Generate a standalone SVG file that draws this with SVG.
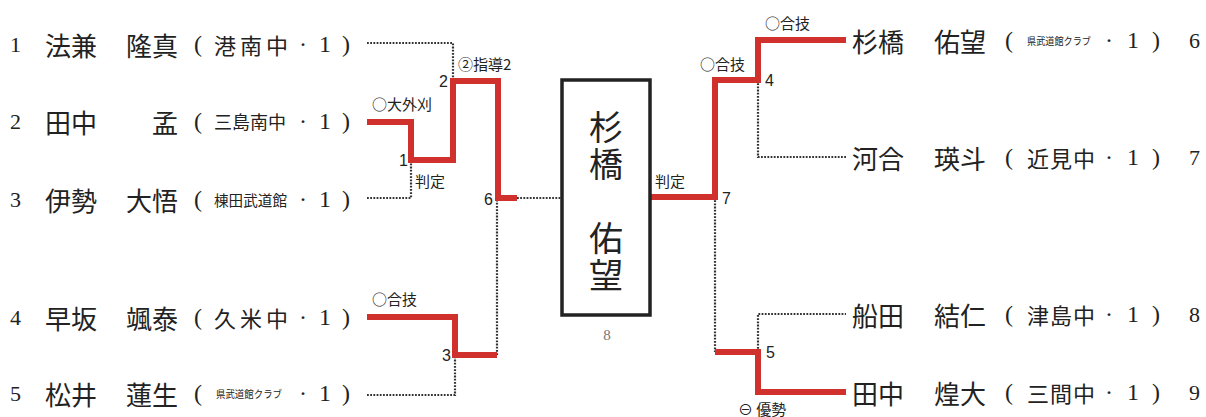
<svg xmlns="http://www.w3.org/2000/svg" width="1206" height="417" viewBox="0 0 1206 417">
<style>
.bg{fill:#fff}
.num{font-family:"Liberation Serif","DejaVu Serif",serif;font-size:22px;fill:#222;dominant-baseline:central}
.nm{font-family:"Noto Sans CJK JP","Noto Sans",sans-serif;font-size:26px;fill:#222;dominant-baseline:central}
.sch{font-family:"Noto Sans CJK JP","Noto Sans",sans-serif;fill:#222;dominant-baseline:central}
.par{font-family:"Liberation Serif","Noto Sans CJK JP",serif;font-size:24px;fill:#222;dominant-baseline:central}
.lbl{font-family:"Noto Sans CJK JP","DejaVu Sans",sans-serif;font-size:15px;fill:#222;dominant-baseline:central}
.sn{font-family:"Liberation Sans Narrow","Liberation Sans",sans-serif;font-size:16px;fill:#222;dominant-baseline:central}
.win{fill:none;stroke:#d0312d;stroke-width:6;stroke-linejoin:miter}
.los{fill:none;stroke:#333;stroke-width:2.2;stroke-dasharray:1.8 1.4}
.box{fill:#fff;stroke:#222;stroke-width:3.5}
.big{font-family:"Noto Sans CJK JP",sans-serif;font-size:34px;fill:#222;writing-mode:vertical-rl;text-anchor:middle;letter-spacing:3px}
</style>
<rect class="bg" width="1206" height="417"/>
<g id="connectors">
  <path class="los" d="M367,43 H453 V81"/>
  <path class="los" d="M367,198 H411 V160"/>
  <path class="los" d="M517,198 H562"/>
  <path class="los" d="M367,395 H455 V355"/>
  <path class="los" d="M497,355 V198"/>
  <path class="los" d="M758,80 V157 H846"/>
  <path class="los" d="M715,197 V352"/>
  <path class="los" d="M758,352 V314 H846"/>
  <path class="win" d="M367,122 H411 V160 H453 V81 H498 V198 H517"/>
  <path class="win" d="M367,317 H455 V355 H497"/>
  <path class="win" d="M650,197 H715 V80 H758 V40 H846"/>
  <path class="win" d="M715,352 H758 V392 H846"/>
</g>
<g id="labels">
  <text class="lbl" x="372" y="103" font-size="13">○大外刈</text>
  <text class="sn" x="448" y="81" text-anchor="end">2</text>
  <text class="lbl" x="458" y="63" font-size="16">②指導2</text>
  <text class="sn" x="408" y="160" text-anchor="end">1</text>
  <text class="lbl" x="415" y="180" font-size="16">判定</text>
  <text class="sn" x="493" y="199" text-anchor="end">6</text>
  <text class="lbl" x="372" y="298" font-size="16">○合技</text>
  <text class="sn" x="451" y="355" text-anchor="end">3</text>
  <text class="lbl" x="655" y="180" font-size="16" fill="#777">判定</text>
  <text class="sn" x="722" y="198">7</text>
  <text class="sn" x="765" y="80">4</text>
  <text class="sn" x="766" y="352">5</text>
  <text class="lbl" x="765" y="22" font-size="16">○合技</text>
  <text class="lbl" x="700" y="63" font-size="16">○合技</text>
  <text class="lbl" x="738" y="408" font-size="16">⊖ 優勢</text>
</g>
<g id="winner">
  <rect class="box" x="562" y="80" width="88" height="235"/>
  <text class="big" x="606" y="147">杉橋</text>
  <text class="big" x="606" y="258">佑望</text>
  <text x="607" y="335" font-family="Liberation Serif,serif" font-size="15" fill="#777" text-anchor="middle" dominant-baseline="central">8</text>
</g>
<g id="p1">
  <text class="num" x="10" y="44">1</text>
  <text class="nm" x="45" y="44">法兼</text>
  <text class="nm" x="126" y="44">隆真</text>
  <text class="par" x="194" y="44">(</text>
  <text class="sch" x="214" y="44" font-size="22" textLength="74" lengthAdjust="spacing">港南中</text>
  <text class="par" x="299" y="44">·</text>
  <text class="par" x="319" y="44">1</text>
  <text class="par" x="342" y="44">)</text>
</g>
<g id="p2">
  <text class="num" x="10" y="121">2</text>
  <text class="nm" x="45" y="121">田中</text>
  <text class="nm" x="152" y="121">孟</text>
  <text class="par" x="194" y="121">(</text>
  <text class="sch" x="214" y="121" font-size="18" textLength="72" lengthAdjust="spacingAndGlyphs">三島南中</text>
  <text class="par" x="299" y="121">·</text>
  <text class="par" x="319" y="121">1</text>
  <text class="par" x="342" y="121">)</text>
</g>
<g id="p3">
  <text class="num" x="10" y="199">3</text>
  <text class="nm" x="45" y="199">伊勢</text>
  <text class="nm" x="126" y="199">大悟</text>
  <text class="par" x="194" y="199">(</text>
  <text class="sch" x="214" y="199" font-size="15" textLength="73" lengthAdjust="spacingAndGlyphs">棟田武道館</text>
  <text class="par" x="299" y="199">·</text>
  <text class="par" x="319" y="199">1</text>
  <text class="par" x="342" y="199">)</text>
</g>
<g id="p4">
  <text class="num" x="10" y="317">4</text>
  <text class="nm" x="45" y="317">早坂</text>
  <text class="nm" x="126" y="317">颯泰</text>
  <text class="par" x="194" y="317">(</text>
  <text class="sch" x="214" y="317" font-size="22" textLength="74" lengthAdjust="spacing">久米中</text>
  <text class="par" x="299" y="317">·</text>
  <text class="par" x="319" y="317">1</text>
  <text class="par" x="342" y="317">)</text>
</g>
<g id="p5">
  <text class="num" x="10" y="393">5</text>
  <text class="nm" x="45" y="393">松井</text>
  <text class="nm" x="126" y="393">蓮生</text>
  <text class="par" x="194" y="393">(</text>
  <text class="sch" x="216" y="393" font-size="10" textLength="66" lengthAdjust="spacingAndGlyphs">県武道館クラブ</text>
  <text class="par" x="299" y="393">·</text>
  <text class="par" x="319" y="393">1</text>
  <text class="par" x="342" y="393">)</text>
</g>
<g id="p6">
  <text class="nm" x="852" y="40">杉橋</text>
  <text class="nm" x="934" y="40">佑望</text>
  <text class="par" x="1005" y="40">(</text>
  <text class="sch" x="1027" y="40" font-size="10" textLength="64" lengthAdjust="spacingAndGlyphs">県武道館クラブ</text>
  <text class="par" x="1105" y="40">·</text>
  <text class="par" x="1127" y="40">1</text>
  <text class="par" x="1152" y="40">)</text>
  <text class="num" x="1189" y="40">6</text>
</g>
<g id="p7">
  <text class="nm" x="852" y="157">河合</text>
  <text class="nm" x="934" y="157">瑛斗</text>
  <text class="par" x="1005" y="157">(</text>
  <text class="sch" x="1027" y="157" font-size="22" textLength="68" lengthAdjust="spacing">近見中</text>
  <text class="par" x="1105" y="157">·</text>
  <text class="par" x="1127" y="157">1</text>
  <text class="par" x="1152" y="157">)</text>
  <text class="num" x="1189" y="157">7</text>
</g>
<g id="p8">
  <text class="nm" x="852" y="314">船田</text>
  <text class="nm" x="934" y="314">結仁</text>
  <text class="par" x="1005" y="314">(</text>
  <text class="sch" x="1027" y="314" font-size="22" textLength="68" lengthAdjust="spacing">津島中</text>
  <text class="par" x="1105" y="314">·</text>
  <text class="par" x="1127" y="314">1</text>
  <text class="par" x="1152" y="314">)</text>
  <text class="num" x="1189" y="314">8</text>
</g>
<g id="p9">
  <text class="nm" x="852" y="392">田中</text>
  <text class="nm" x="934" y="392">煌大</text>
  <text class="par" x="1005" y="392">(</text>
  <text class="sch" x="1027" y="392" font-size="22" textLength="68" lengthAdjust="spacing">三間中</text>
  <text class="par" x="1105" y="392">·</text>
  <text class="par" x="1127" y="392">1</text>
  <text class="par" x="1152" y="392">)</text>
  <text class="num" x="1189" y="392">9</text>
</g>
</svg>
